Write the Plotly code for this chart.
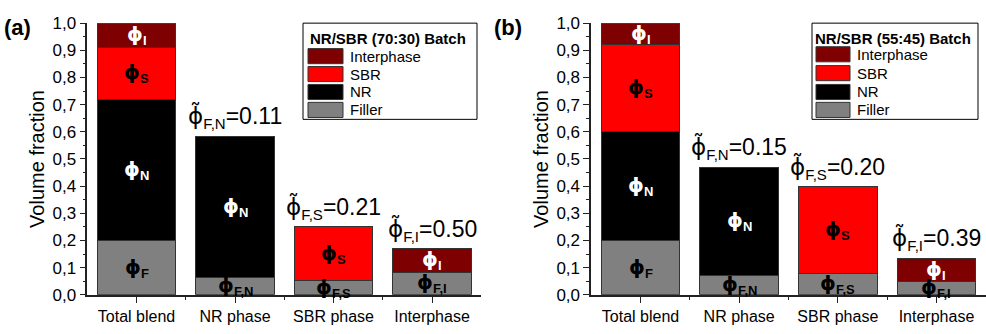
import plotly.graph_objects as go

categories = ["Total blend", "NR phase", "SBR phase", "Interphase"]
components = ["Filler", "NR", "SBR", "Interphase"]
colors = {"Filler": "#808080", "NR": "#000000", "SBR": "#ff0000", "Interphase": "#7f0000"}

# Panel (a): NR/SBR (70:30)
a_filler = [0.20, 0.064, 0.052, 0.083]
a_nr = [0.52, 0.52, None, None]
a_sbr = [0.19, None, 0.198, None]
a_inter = [0.09, None, None, 0.087]
a_tilde = ["0.11", "0.21", "0.50"]

# Panel (b): NR/SBR (55:45)
b_filler = [0.20, 0.070, 0.078, 0.050]
b_nr = [0.40, 0.40, None, None]
b_sbr = [0.32, None, 0.32, None]
b_inter = [0.08, None, None, 0.084]
b_tilde = ["0.15", "0.20", "0.39"]

tilde_subs = ["F,N", "F,S", "F,I"]
filler_subs = ["F", "F,N", "F,S", "F,I"]
seg_subs = {"NR": "N", "SBR": "S", "Interphase": "I"}
text_colors = {"Filler": "black", "NR": "white", "SBR": "black", "Interphase": "white"}

panels = [
    ("a", "NR/SBR (70:30) Batch", {"Filler": a_filler, "NR": a_nr, "SBR": a_sbr, "Interphase": a_inter}, a_tilde),
    ("b", "NR/SBR (55:45) Batch", {"Filler": b_filler, "NR": b_nr, "SBR": b_sbr, "Interphase": b_inter}, b_tilde),
]

W, H = 986, 334
FONT = "Liberation Sans, Arial, sans-serif"
PHI = "<span style='font-family:DejaVu Sans'>\u03d5</span>"
PHI_T = "<span style='font-family:DejaVu Sans'>\u03d5\u0303</span>"

fig = go.Figure()
annotations = []
shapes = []

xdomains = [[87.25 / W, 481.25 / W], [591.2 / W, 985.8 / W]]
ydomain = [1 - 303 / H, 1 - 15 / H]
xs = list(range(len(categories)))

for pi, (tag, title, data, tildes) in enumerate(panels):
    xa = "x" if pi == 0 else "x2"
    ya = "y" if pi == 0 else "y2"
    for comp in components:
        fig.add_trace(go.Bar(
            x=xs, y=data[comp], name=comp, xaxis=xa, yaxis=ya,
            marker=dict(color=colors[comp], line=dict(color="#333333", width=1)),
            width=0.8, showlegend=False, hoverinfo="skip",
        ))
    # labels inside segments
    for i in xs:
        base = 0.0
        for comp in components:
            v = data[comp][i]
            if v is None:
                continue
            sub = filler_subs[i] if comp == "Filler" else seg_subs[comp]
            annotations.append(dict(
                x=i, y=base + v / 2, xref=xa, yref=ya, showarrow=False,
                text="<b>%s<sub><span style='font-size:13px'>%s</span></sub></b>" % (PHI, sub),
                font=dict(family=FONT, size=20, color=text_colors[comp]),
                xanchor="center", yanchor="middle",
            ))
            base += v
        if i > 0:
            annotations.append(dict(
                x=i, y=base, xref=xa, yref=ya, showarrow=False,
                text="%s<sub><span style='font-size:15px'>%s</span></sub>=%s" % (PHI_T, tilde_subs[i - 1], tildes[i - 1]),
                font=dict(family=FONT, size=23, color="black"),
                xanchor="center", yanchor="bottom", yshift=2,
            ))

    # panel tag
    annotations.append(dict(
        x=(2 if pi == 0 else 492) / W, y=1 - 4 / H, xref="paper", yref="paper",
        showarrow=False, text="<b>(%s)</b>" % tag, xanchor="left", yanchor="top",
        font=dict(family=FONT, size=22, color="black"),
    ))

    # manual legend
    if pi == 0:
        bx0, bx1, sw0, sw1, tx, ttx, rows = 303, 477, 308, 343, 348, 308, [50, 69, 88, 107]
    else:
        bx0, bx1, sw0, sw1, tx, ttx, rows = 812, 978, 816, 850, 855, 813, [48, 68, 88, 107]
    shapes.append(dict(type="rect", xref="paper", yref="paper",
                       x0=bx0 / W, x1=bx1 / W, y0=1 - 117 / H, y1=1 - 15 / H,
                       line=dict(color="black", width=1), fillcolor="white", layer="above"))
    annotations.append(dict(
        x=ttx / W, y=1 - 31 / H, xref="paper", yref="paper", showarrow=False,
        text="<b>%s</b>" % title, xanchor="left", yanchor="middle",
        font=dict(family=FONT, size=15, color="black"),
    ))
    for comp, ry in zip(["Interphase", "SBR", "NR", "Filler"], rows):
        shapes.append(dict(type="rect", xref="paper", yref="paper",
                           x0=sw0 / W, x1=sw1 / W, y0=1 - (ry + 8) / H, y1=1 - (ry - 8) / H,
                           line=dict(color="#333333", width=1), fillcolor=colors[comp], layer="above"))
        annotations.append(dict(
            x=tx / W, y=1 - ry / H, xref="paper", yref="paper", showarrow=False,
            text=comp, xanchor="left", yanchor="middle",
            font=dict(family=FONT, size=15, color="black"),
        ))

axis_common_x = dict(
    range=[-0.5, 3.5], tickmode="array", tickvals=xs, ticktext=categories,
    ticks="outside", ticklen=6, tickwidth=1.3, tickcolor="#222",
    showline=True, linecolor="#222", linewidth=1.5, showgrid=False, zeroline=False,
    tickfont=dict(family=FONT, size=16, color="black"),
    minor=dict(tickvals=[0.5, 1.5, 2.5], ticks="outside", ticklen=3, tickwidth=1.3, tickcolor="#222", showgrid=False),
    fixedrange=True,
)
axis_common_y = dict(
    range=[0, 1.0], tickmode="linear", tick0=0, dtick=0.1, tickformat=".1f",
    ticks="outside", ticklen=6, tickwidth=1.3, tickcolor="#222",
    showline=True, linecolor="#222", linewidth=1.5, showgrid=False, zeroline=False,
    tickfont=dict(family=FONT, size=17, color="black"),
    minor=dict(dtick=0.05, ticks="outside", ticklen=3, tickwidth=1.3, tickcolor="#222", showgrid=False),
    title=dict(text="Volume fraction", font=dict(family=FONT, size=20, color="black"), standoff=2),
    fixedrange=True,
)

fig.update_layout(
    width=W, height=H, barmode="stack", separators=", ",
    margin=dict(l=0, r=0, t=0, b=0),
    paper_bgcolor="white", plot_bgcolor="white",
    xaxis=dict(domain=xdomains[0], anchor="y", **axis_common_x),
    yaxis=dict(domain=ydomain, anchor="x", **axis_common_y),
    xaxis2=dict(domain=xdomains[1], anchor="y2", **axis_common_x),
    yaxis2=dict(domain=ydomain, anchor="x2", **axis_common_y),
    annotations=annotations, shapes=shapes,
    font=dict(family=FONT, color="black"),
)

fig.write_html("out.html")
